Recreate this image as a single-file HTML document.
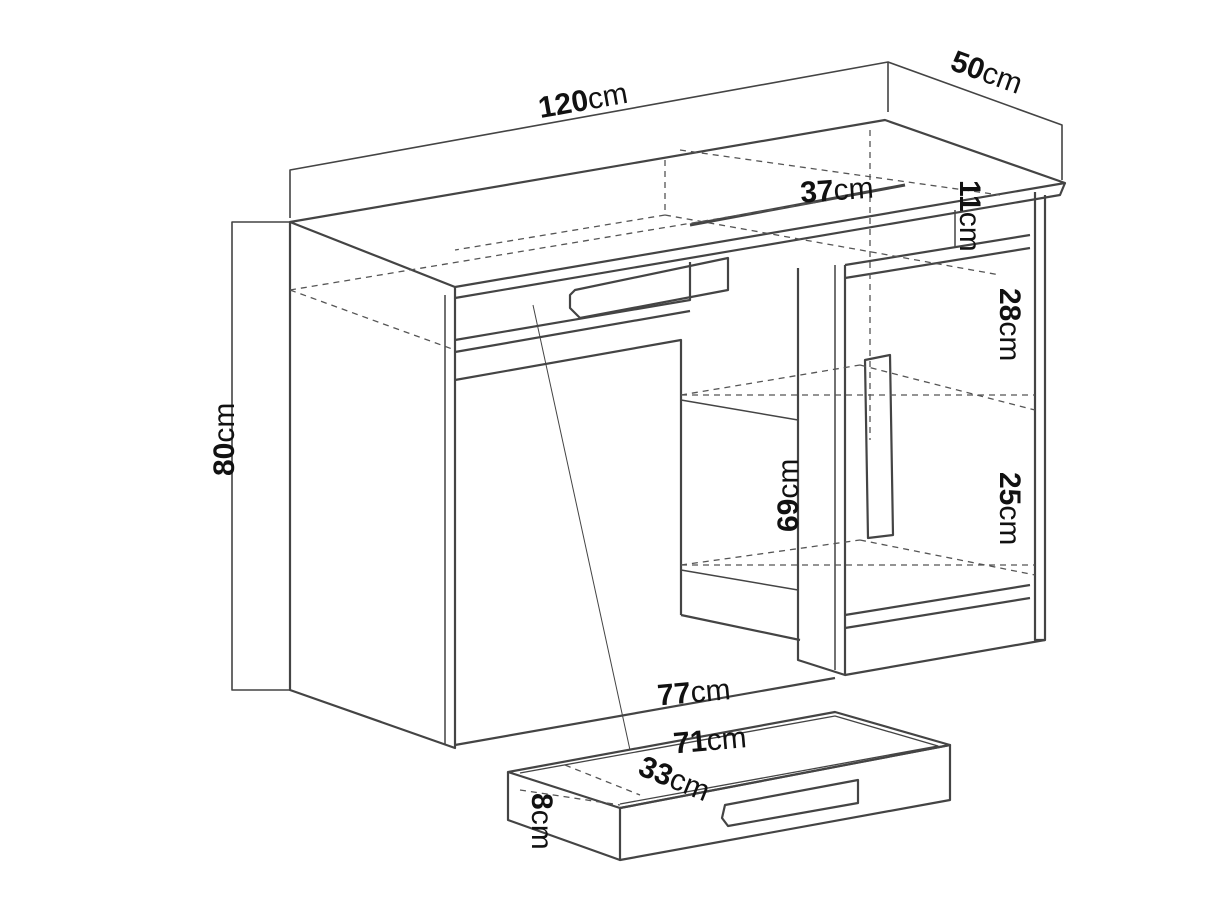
<!DOCTYPE html>
<html><head><meta charset="utf-8"><style>
html,body{margin:0;padding:0;background:#fff;}
svg{display:block}
text{font-family:"Liberation Sans",sans-serif;font-size:30px;fill:#111}
.b{font-weight:bold}
</style></head><body>
<svg width="1220" height="915" viewBox="0 0 1220 915">
<g fill="none" stroke="#444" stroke-width="2.2" stroke-linejoin="round">
<polyline points="290,218 290,170 888,62 888,112" stroke-width="1.6"/>
<polyline points="888,62 1062,125 1062,180" stroke-width="1.6"/>
<polyline points="290,222 232,222 232,690 290,690" stroke-width="1.6"/>
<polygon points="290,222 455,287 1065,183 885,120" />
<polyline points="455,287 455,298 1060,195 1065,183"/>
<polyline points="290,222 290,690 455,748 455,298"/>
<line x1="445" y1="295" x2="445" y2="745" stroke-width="1.5"/>
<line x1="455" y1="745" x2="835" y2="678"/>
<polyline points="455,340 690,300 690,262"/>
<polyline points="455,352 690,311"/>
<polyline points="455,380 681,340 681,615"/>
<line x1="681" y1="615" x2="800" y2="640"/>
<polygon points="575,290 728,258 728,290 580,318 570,308 570,295"/>
<polyline points="798,268 798,660 845,675 845,265"/>
<line x1="835" y1="265" x2="835" y2="670" stroke-width="1.5"/>
<line x1="845" y1="675" x2="1045" y2="640"/>
<polyline points="1035,192 1035,640 1045,640 1045,195"/>
<line x1="845" y1="265" x2="1030" y2="235"/>
<line x1="845" y1="278" x2="1030" y2="248"/>
<line x1="845" y1="615" x2="1030" y2="585"/>
<line x1="845" y1="628" x2="1030" y2="598"/>
<line x1="955" y1="210" x2="955" y2="248" stroke-width="1.5"/>
<polygon points="865,360 890,355 893,535 868,538"/>
<line x1="681" y1="400" x2="798" y2="420" stroke-width="1.5"/>
<line x1="681" y1="570" x2="798" y2="590" stroke-width="1.5"/>
<line x1="690" y1="225" x2="905" y2="185" stroke-width="3"/>
<polygon points="508,772 835,712 950,745 620,808"/>
<polygon points="620,808 950,745 950,800 620,860"/>
<polyline points="508,772 508,820 620,860"/>
<polyline points="520,773 835,716 938,746 620,804" stroke-width="1.3"/>
<polygon points="725,805 858,780 858,803 728,826 722,818"/>
<line x1="533" y1="305" x2="630" y2="750" stroke-width="1"/>
</g>
<g fill="none" stroke="#555" stroke-width="1.3" stroke-dasharray="6,5">
<line x1="290" y1="290" x2="455" y2="350"/>
<line x1="290" y1="290" x2="830" y2="200"/>
<line x1="665" y1="160" x2="665" y2="215"/>
<line x1="665" y1="215" x2="1000" y2="275"/>
<line x1="665" y1="215" x2="455" y2="250"/>
<line x1="680" y1="150" x2="1000" y2="195"/>
<line x1="870" y1="130" x2="870" y2="440"/>
<line x1="681" y1="395" x2="860" y2="365"/>
<line x1="681" y1="395" x2="1035" y2="395"/>
<line x1="860" y1="365" x2="1035" y2="410"/>
<line x1="681" y1="565" x2="860" y2="540"/>
<line x1="860" y1="540" x2="1035" y2="575"/>
<line x1="681" y1="565" x2="1035" y2="565"/>
<line x1="520" y1="790" x2="620" y2="805"/>
<line x1="565" y1="765" x2="640" y2="795"/>
</g>
<text x="537" y="110" transform="rotate(-10 585 95)"><tspan class="b">120</tspan>cm</text>
<text x="948" y="82" transform="rotate(20 985 78)"><tspan class="b">50</tspan>cm</text>
<text transform="translate(234,476) rotate(-90)"><tspan class="b">80</tspan>cm</text>
<text x="800" y="200" transform="rotate(-4 838 187)"><tspan class="b">37</tspan>cm</text>
<text transform="translate(960,180) rotate(90)"><tspan class="b">11</tspan>cm</text>
<text transform="translate(1000,288) rotate(90)"><tspan class="b">28</tspan>cm</text>
<text transform="translate(1000,472) rotate(90)"><tspan class="b">25</tspan>cm</text>
<text transform="translate(798,532) rotate(-90)"><tspan class="b">69</tspan>cm</text>
<text x="657" y="702" transform="rotate(-5 697 690)"><tspan class="b">77</tspan>cm</text>
<text x="673" y="750" transform="rotate(-5 713 738)"><tspan class="b">71</tspan>cm</text>
<text x="633" y="787" transform="rotate(22 668 790)"><tspan class="b">33</tspan>cm</text>
<text transform="translate(532,793) rotate(90)"><tspan class="b">8</tspan>cm</text>
</svg>
</body></html>
